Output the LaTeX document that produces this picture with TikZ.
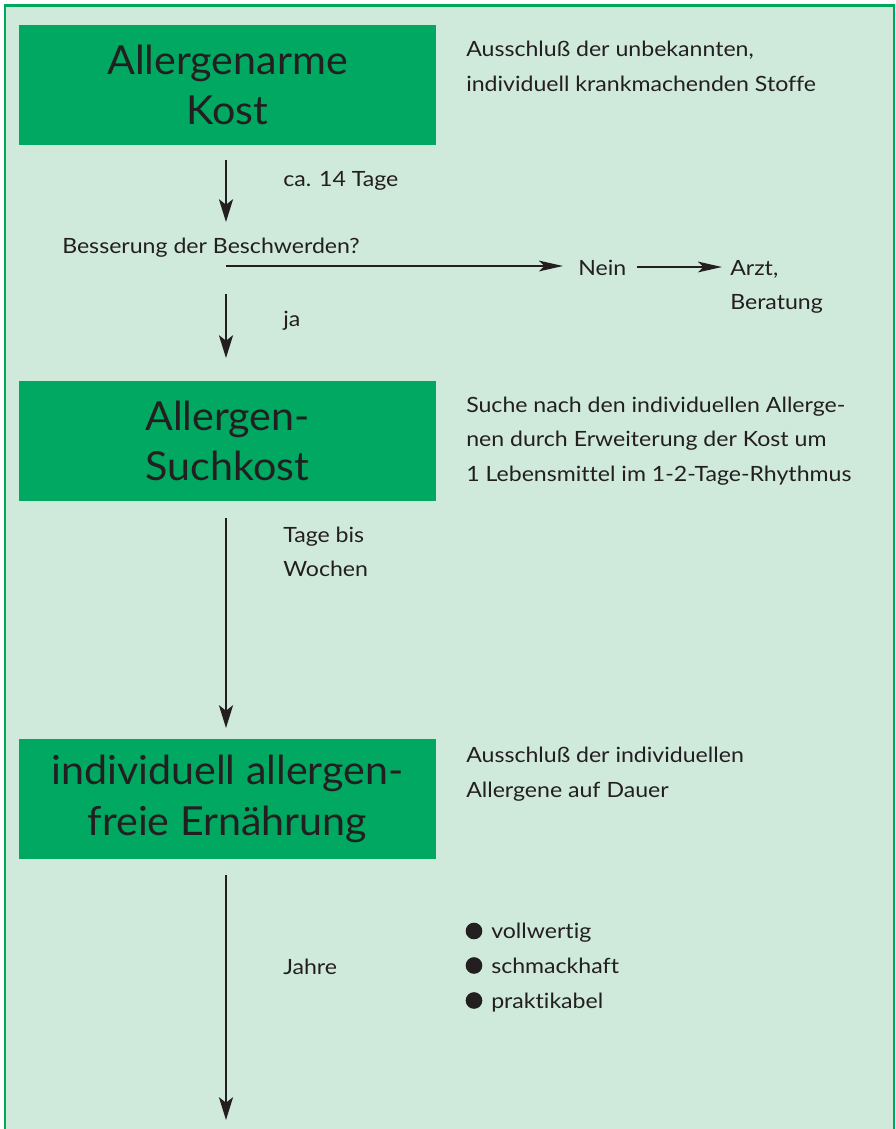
\documentclass[tikz,border=0pt]{standalone}
\usepackage{fontspec}
\setmainfont{Lato}[Ligatures=NoCommon,FakeStretch=1.1]
\newfontfamily\boxfont{Lato}[Ligatures=NoCommon,FakeStretch=1.03]
\usetikzlibrary{arrows.meta}
\definecolor{bg}{RGB}{207,233,219}
\definecolor{framegreen}{RGB}{0,168,94}
\definecolor{boxgreen}{RGB}{0,168,98}
\definecolor{ink}{RGB}{35,31,32}
\begin{document}
\begin{tikzpicture}[x=0.75pt,y=-0.75pt,
  frame/.style={draw=framegreen,line width=1.9pt,fill=bg},
  greenbox/.style={fill=boxgreen,minimum width=312.75pt,minimum height=90pt,inner sep=0pt,
    text=ink,align=center,font=\boxfont\fontsize{30}{38}\selectfont},
  txt/.style={inner sep=0pt,text=ink,font=\fontsize{15.75}{26}\selectfont,anchor=base west},
  varr/.style={draw=ink,line width=1.6pt,-{Stealth[length=17pt,width=10.5pt,inset=4pt]}},
  harr/.style={draw=ink,line width=1.6pt,-{Stealth[length=18pt,width=8pt,inset=4pt]}},
  bul/.style={circle,fill=ink,minimum size=12.5pt,inner sep=0pt}]
\useasboundingbox (0,0) rectangle (896,1129);
\draw[frame] (5,5.5) rectangle (894,1145);

% boxes
\node[greenbox] (b1) at (227.5,85) {Allergenarme\\Kost};
\node[greenbox] (b2) at (227.5,441) {Allergen-\\Suchkost};
\node[greenbox] (b3) at (227.5,799) {individuell allergen-\\freie Ernährung};

% right-hand descriptions
\node[txt] (r1a) at (466,56.5) {Ausschluß der unbekannten,};
\node[txt] (r1b) at (466,91.5) {individuell krankmachenden Stoffe};
\node[txt] (r2a) at (466,412) {Suche nach den individuellen Allerge-};
\node[txt] (r2b) at (466,446.5) {nen durch Erweiterung der Kost um};
\node[txt] (r2c) at (466,481) {1 Lebensmittel im 1-2-Tage-Rhythmus};
\node[txt] (r3a) at (466,762) {Ausschluß der individuellen};
\node[txt] (r3b) at (466,797) {Allergene auf Dauer};

% labels along the main arrows
\node[txt] (l1) at (283,186) {ca. 14 Tage};
\node[txt] (q) at (62,253) {Besserung der Beschwerden?};
\node[txt] (ja) at (283,326.5) {ja};
\node[txt] (l3a) at (283,542) {Tage bis};
\node[txt] (l3b) at (283,576) {Wochen};
\node[txt] (l4) at (283,974) {Jahre};

% Nein branch
\node[txt] (nein) at (578,275) {Nein};
\node[txt] (arzt) at (730,275) {Arzt,};
\node[txt] (ber) at (730,309) {Beratung};

% bullets
\node[bul] (d1) at (474,931) {};
\node[bul] (d2) at (474,965.5) {};
\node[bul] (d3) at (474,1000.5) {};
\node[txt] (t1) at (491,938) {vollwertig};
\node[txt] (t2) at (491,973) {schmackhaft};
\node[txt] (t3) at (491,1008) {praktikabel};

% connector end points
\coordinate (a1s) at (226,160);  \coordinate (a1e) at (226,222);
\coordinate (hs)  at (226,266);  \coordinate (he)  at (563,266);
\coordinate (ns)  at (637,267);  \coordinate (ne)  at (722,267);
\coordinate (a2s) at (226,294);  \coordinate (a2e) at (226,358);
\coordinate (a3s) at (226,518);  \coordinate (a3e) at (226,728);
\coordinate (a4s) at (226,875);  \coordinate (a4e) at (226,1120);

\draw[varr] (a1s) -- (a1e);
\draw[harr] (hs) -- (he);
\draw[harr] (ns) -- (ne);
\draw[varr] (a2s) -- (a2e);
\draw[varr] (a3s) -- (a3e);
\draw[varr] (a4s) -- (a4e);
\end{tikzpicture}
\end{document}
